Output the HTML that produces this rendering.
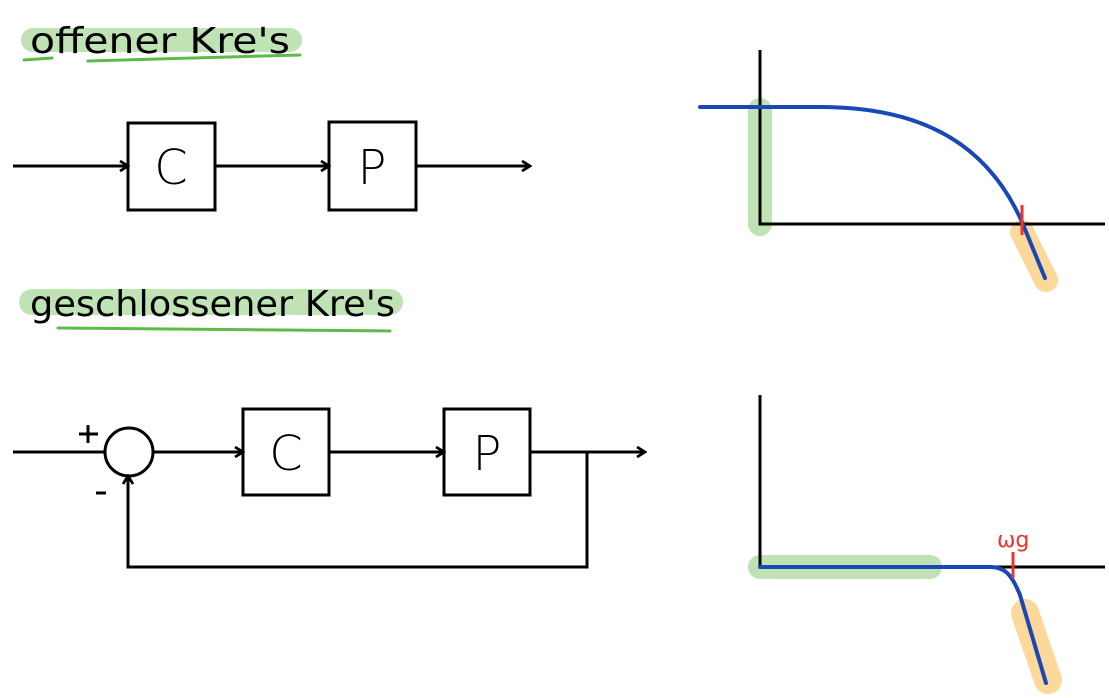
<!DOCTYPE html>
<html><head><meta charset="utf-8"><style>
html,body{margin:0;padding:0;background:#fff;}
svg{display:block}
text{font-family:"DejaVu Sans","Liberation Sans",sans-serif;}
</style></head><body>
<svg width="1109" height="698" viewBox="0 0 1109 698" xmlns="http://www.w3.org/2000/svg">
<defs>
<marker id="a" markerWidth="12" markerHeight="12" refX="10" refY="6" orient="auto" markerUnits="userSpaceOnUse">
<path d="M2,1 L10,6 L2,11" fill="none" stroke="#000" stroke-width="2.8"/></marker>
</defs>
<!-- headings -->
<path d="M33,40 H290" stroke="#bfe3b4" stroke-width="24" stroke-linecap="round"/>
<path d="M24,60 L52,58 M88,61 L300,55" stroke="#5dbb4a" stroke-width="3" fill="none" stroke-linecap="round"/>
<text x="30" y="53" font-size="36" font-weight="400" fill="#000" textLength="260" lengthAdjust="spacingAndGlyphs">offener  Kre's</text>
<path d="M32,302 H390" stroke="#bfe3b4" stroke-width="26" stroke-linecap="round"/>
<path d="M58,328 L390,331" stroke="#5dbb4a" stroke-width="3" fill="none" stroke-linecap="round"/>
<text x="30" y="316" font-size="36" font-weight="400" fill="#000" textLength="365" lengthAdjust="spacingAndGlyphs">geschlossener  Kre's</text>
<g stroke="#000" stroke-width="3" fill="none">
<!-- open loop -->
<line x1="13" y1="166" x2="128" y2="166" marker-end="url(#a)"/>
<rect x="128" y="123" width="87" height="87"/>
<line x1="215" y1="166" x2="329" y2="166" marker-end="url(#a)"/>
<rect x="329" y="122" width="87" height="88"/>
<line x1="416" y1="166" x2="530" y2="166" marker-end="url(#a)"/>
<!-- closed loop -->
<line x1="13" y1="452" x2="105" y2="452"/>
<circle cx="129" cy="452" r="24"/>
<line x1="153" y1="452" x2="243" y2="452" marker-end="url(#a)"/>
<rect x="243" y="409" width="86" height="86"/>
<line x1="329" y1="452" x2="444" y2="452" marker-end="url(#a)"/>
<rect x="444" y="409" width="86" height="86"/>
<line x1="530" y1="452" x2="645" y2="452" marker-end="url(#a)"/>
<polyline points="587,452 587,567 128,567 128,476" marker-end="url(#a)"/>
<path d="M79,434 H98 M88,425 V443 M96,493 H106"/>
</g>
<g font-size="48" font-weight="300" fill="#000" text-anchor="middle">
<text x="171" y="184">C</text><text x="372" y="184">P</text>
<text x="286" y="470">C</text><text x="487" y="470">P</text>
</g>
<!-- plot 1 -->
<path d="M760,110 V224" stroke="#bfe3b4" stroke-width="24" stroke-linecap="round"/>
<path d="M1022,232 L1046,280" stroke="#fcd89a" stroke-width="24" stroke-linecap="round"/>
<path d="M760,50 V224 H1105" stroke="#000" stroke-width="3" fill="none"/>
<path d="M700,107 H820 C930,107 990,150 1022,222 L1045,278" stroke="#1a47b8" stroke-width="4" fill="none" stroke-linecap="round"/>
<path d="M1022,205 V235" stroke="#e33" stroke-width="3"/>
<!-- plot 2 -->
<path d="M760,567 H930" stroke="#bfe3b4" stroke-width="24" stroke-linecap="round"/>
<path d="M1025,613 L1048,680" stroke="#fcd89a" stroke-width="28" stroke-linecap="round"/>
<path d="M760,395 V567 H1105" stroke="#000" stroke-width="3" fill="none"/>
<path d="M760,567 H990 C1005,567 1012,575 1020,595 L1046,683" stroke="#1a47b8" stroke-width="4" fill="none" stroke-linecap="round"/>
<path d="M1013,552 V578" stroke="#e33" stroke-width="3"/>
<text x="997" y="547" font-size="22" fill="#e33">ωg</text>
</svg>
</body></html>
